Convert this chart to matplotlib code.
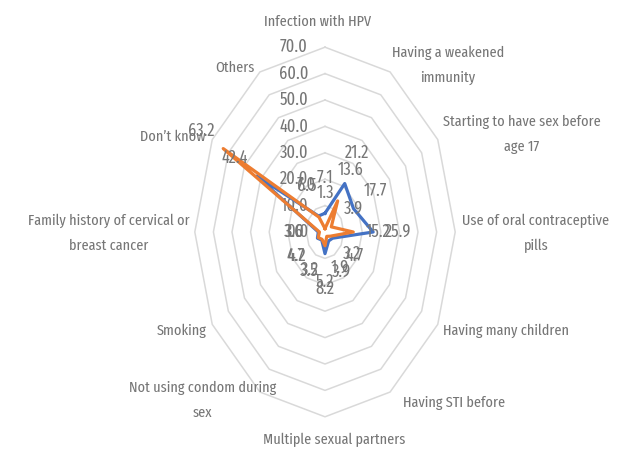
import numpy as np
import matplotlib
matplotlib.use('Agg')
import matplotlib.pyplot as plt
from matplotlib import font_manager

categories = ['Infection with HPV', 'Having a weakened\nimmunity', 'Starting to have sex before\nage 17',
              'Use of oral contraceptive\npills', 'Having many children', 'Having STI before',
              'Multiple sexual partners', 'Not using condom during\nsex', 'Smoking',
              'Family history of cervical or\nbreast cancer', 'Don\u2019t know', 'Others']
blue_vals = [7.1, 21.2, 17.7, 25.9, 4.7, 3.9, 8.2, 3.5, 4.7, 3.6, 42.4, 7.0]
orange_vals = [1.3, 13.6, 3.9, 15.2, 3.2, 1.9, 5.2, 3.2, 4.2, 3.0, 63.2, 6.5]
rings = [0, 10, 20, 30, 40, 50, 60, 70]

# pixel offsets of the category labels from the outer vertices (px, y down)
lab_off = [(-7, -25), (2, -7), (5, -5), (7, 1), (5, 6), (13, 11), (9, 23),
           (-57, 8), (-6, 6), (-5, 1), (-7, -3), (-5, -4)]
lab_ha = ['center', 'left', 'left', 'left', 'left', 'left', 'center',
          'center', 'right', 'right', 'right', 'right']


def stretch_rank(f):
    s = str(f.stretch).lower()
    nm = (f.name + ' ' + f.fname).lower().replace('-', '').replace(' ', '')
    if 'extracondensed' in nm or s == 'extra-condensed':
        return 0
    if 'semicondensed' in nm or s == 'semi-condensed':
        return 2
    if 'condensed' in nm or 'narrow' in nm or s == 'condensed':
        return 1
    return None


# the reference text is tall and thin -> pick the narrowest condensed font there is
best = None
for f in font_manager.fontManager.ttflist:
    if f.style != 'normal' or f.weight not in (400, 'normal', 'regular'):
        continue
    rk = stretch_rank(f)
    if rk is None:
        continue
    if best is None or rk < best[0]:
        best = (rk, f)
if best is not None:
    fp = font_manager.FontProperties(fname=best[1].fname)
else:
    fp = font_manager.FontProperties(family=['Liberation Sans', 'DejaVu Sans'])

W, H = 625, 451
cx, cy = 325, 232      # centre in px (from top)
sx, sy = 1.86, 2.64    # px per unit (picture is stretched vertically)

fig = plt.figure(figsize=(W / 100, H / 100), dpi=100)

# size the font so that "Infection with HPV" is about 107 px wide, as in the reference
probe = fig.text(0, 0, 'Infection with HPV', fontproperties=fp, fontsize=10)
fig.canvas.draw()
fs = 10 * 107 / probe.get_window_extent().width
probe.remove()
fs_px = fs * 100 / 72
fs_num = fs * 1.15   # numbers look a bit bigger in the reference

ax = fig.add_axes([0, 0, 1, 1])
ax.set_xlim(-cx / sx, (W - cx) / sx)
ax.set_ylim(-(H - cy) / sy, cy / sy)
ax.axis('off')

n = len(categories)
theta = np.arange(n) * 2 * np.pi / n
ct = np.append(theta, theta[0])

txt = '#767676'
pt = 72 / 100  # px -> points

for r in rings[1:]:
    ax.plot(r * np.sin(ct), r * np.cos(ct), color='#d9d9d9', lw=1.1, zorder=1)

for r in rings:
    ax.annotate(f'{r:.1f}', (0, r), xytext=(-17 * pt, 0), textcoords='offset points',
                ha='right', va='center', color=txt, fontproperties=fp, fontsize=fs_num, zorder=2)

for vals, col in [(blue_vals, '#4472c4'), (orange_vals, '#ed7d31')]:
    v = np.append(vals, vals[0])
    ax.plot(v * np.sin(ct), v * np.cos(ct), color=col, lw=2.3, zorder=3,
            solid_joinstyle='round')

for vals in [blue_vals, orange_vals]:
    for t, v in zip(theta, vals):
        rr = v + 13.5
        ax.text(rr * np.sin(t), rr * np.cos(t), f'{v:.1f}', ha='center', va='center',
                color=txt, fontproperties=fp, fontsize=fs_num, zorder=4)

rmax = rings[-1]
for i, (t, lab) in enumerate(zip(theta, categories)):
    dx, dy = lab_off[i]
    ax.annotate(lab, (rmax * np.sin(t), rmax * np.cos(t)), xytext=(dx * pt, -dy * pt),
                textcoords='offset points', ha=lab_ha[i], va='center', multialignment='center',
                color=txt, fontproperties=fp, fontsize=fs, linespacing=26 / (0.87 * fs_px),
                zorder=4)

fig.savefig('out.png', dpi=100)
